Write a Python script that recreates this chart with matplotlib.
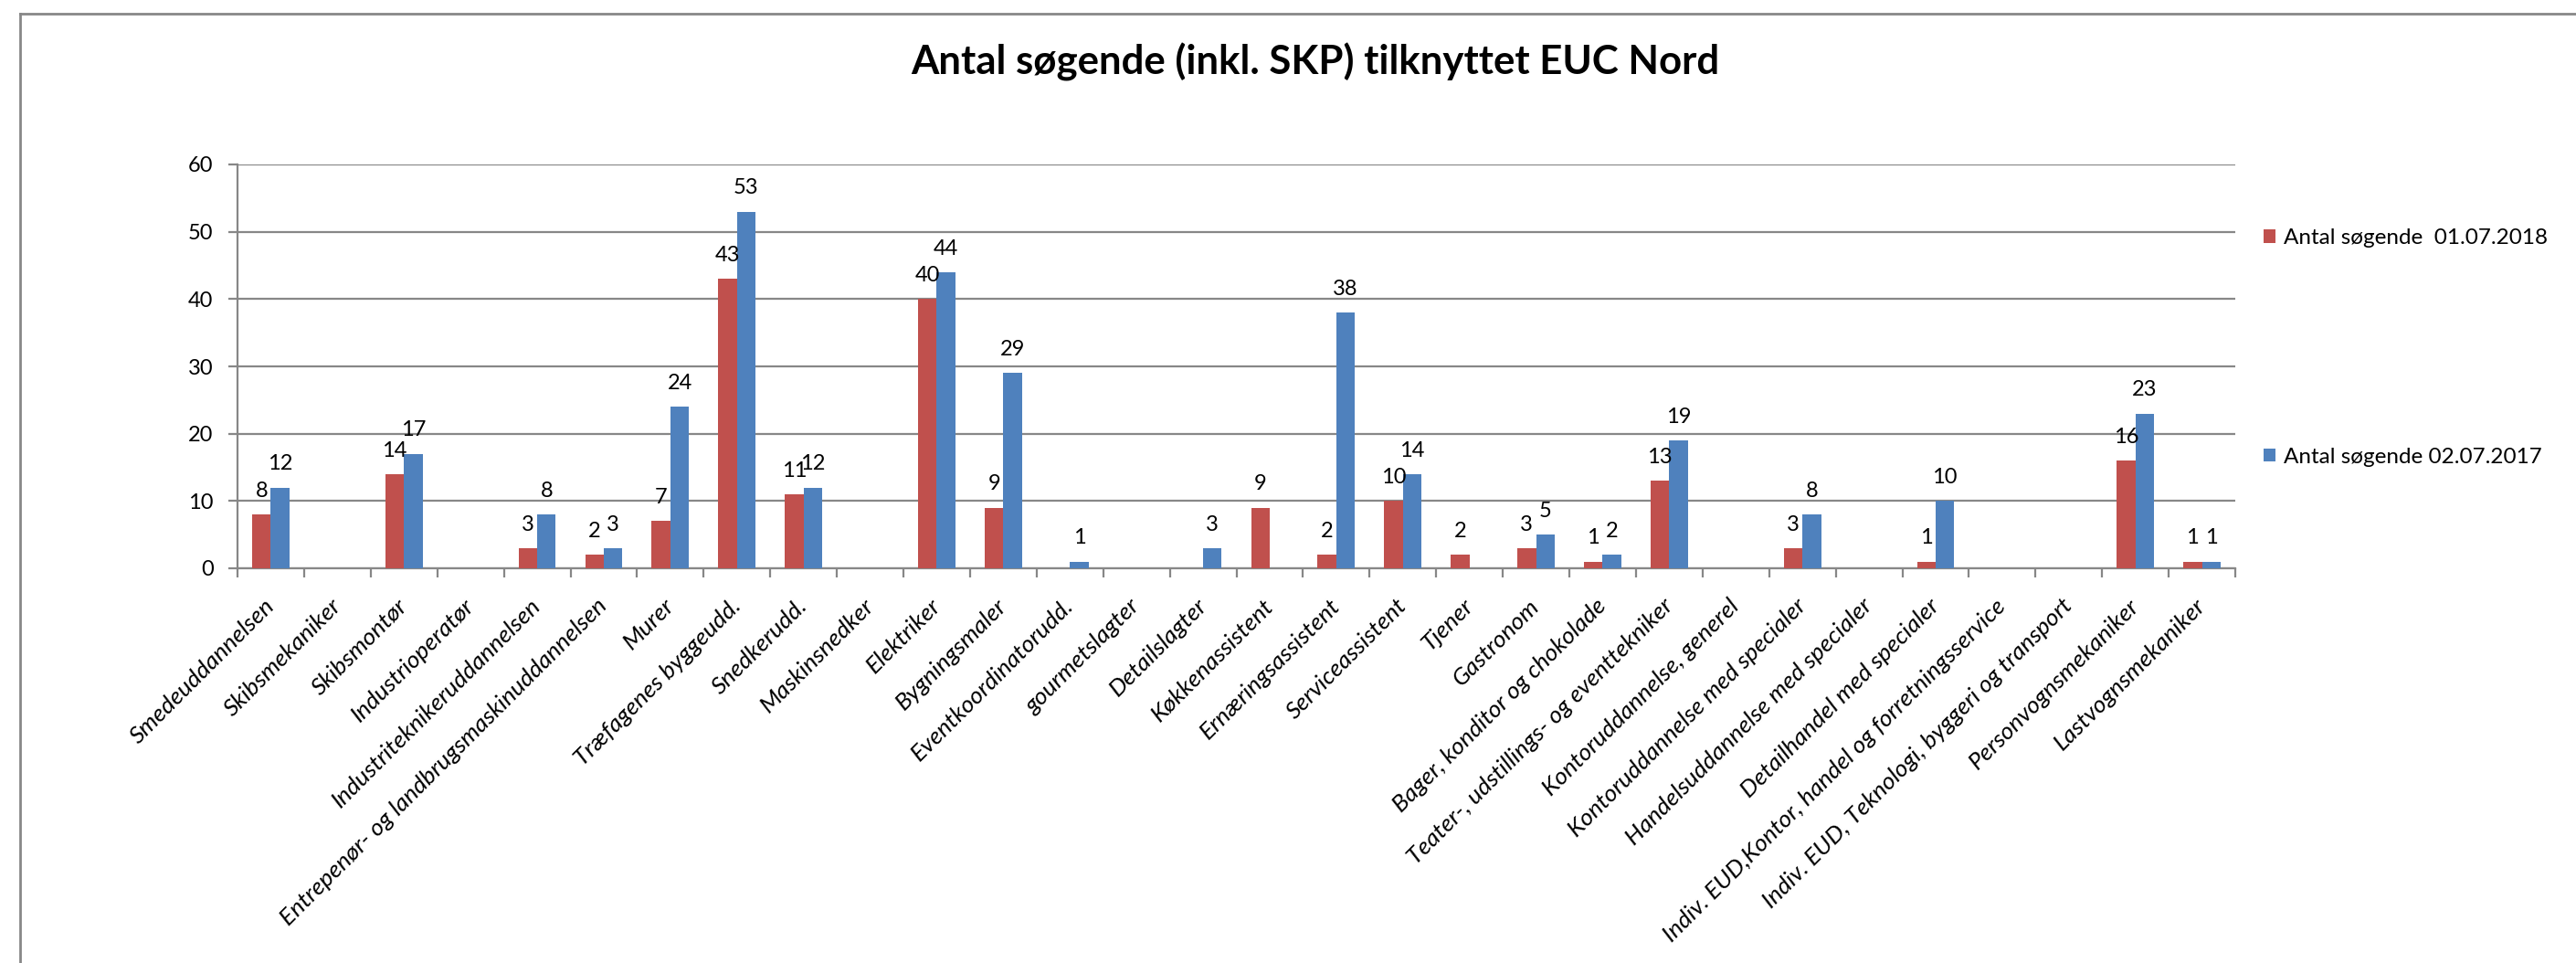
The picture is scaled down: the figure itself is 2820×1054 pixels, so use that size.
import numpy as np
import matplotlib.pyplot as plt
from matplotlib.lines import Line2D

categories = [
    "Smedeuddannelsen", "Skibsmekaniker", "Skibsmontør", "Industrioperatør",
    "Industriteknikeruddannelsen", "Entrepenør- og landbrugsmaskinuddannelsen",
    "Murer", "Træfagenes byggeudd.", "Snedkerudd.", "Maskinsnedker",
    "Elektriker", "Bygningsmaler", "Eventkoordinatorudd.", "gourmetslagter",
    "Detailslagter", "Køkkenassistent", "Ernæringsassistent", "Serviceassistent",
    "Tjener", "Gastronom", "Bager, konditor og chokolade",
    "Teater-, udstillings- og eventtekniker", "Kontoruddannelse, generel",
    "Kontoruddannelse med specialer", "Handelsuddannelse med specialer",
    "Detailhandel med specialer", "Indiv. EUD,Kontor, handel og forretningsservice",
    "Indiv. EUD, Teknologi, byggeri og transport", "Personvognsmekaniker",
    "Lastvognsmekaniker",
]

# None = tom celle (ingen søjle, ingen etiket)
s2018 = [8, None, 14, None, 3, 2, 7, 43, 11, None, 40, 9, None, None, None,
         9, 2, 10, 2, 3, 1, 13, None, 3, None, 1, None, None, 16, 1]
s2017 = [12, None, 17, None, 8, 3, 24, 53, 12, None, 44, 29, 1, None, 3,
         None, 38, 14, None, 5, 2, 19, None, 8, None, 10, None, None, 23, 1]

label2018 = "Antal søgende  01.07.2018"
label2017 = "Antal søgende 02.07.2017"
title = "Antal søgende (inkl. SKP) tilknyttet EUC Nord"

red = "#C0504D"
blue = "#4F81BD"
grey = "#878787"

plt.rcParams['font.family'] = ['Lato', 'DejaVu Sans']

W, H = 2820, 1054
fig = plt.figure(figsize=(W / 100, H / 100), dpi=100)
ax = fig.add_axes([260 / W, 1 - 622 / H, 2187 / W, 442 / H])

x = np.arange(len(categories))
bw = 0.28
v18 = np.array([np.nan if v is None else v for v in s2018], dtype=float)
v17 = np.array([np.nan if v is None else v for v in s2017], dtype=float)

b1 = ax.bar(x - bw / 2, np.nan_to_num(v18), bw, color=red, zorder=3)
b2 = ax.bar(x + bw / 2, np.nan_to_num(v17), bw, color=blue, zorder=3)

for xs, vals in ((x - bw / 2, s2018), (x + bw / 2, s2017)):
    for xi, v in zip(xs, vals):
        if v is None:
            continue
        ax.annotate(str(v), (xi, v), xytext=(0, 11), textcoords='offset points',
                    ha='center', va='bottom', fontsize=17, zorder=4)

ax.set_xlim(-0.5, len(categories) - 0.5)
ax.set_ylim(0, 60)
ax.set_yticks(range(0, 61, 10))
ax.yaxis.grid(True, color=grey, linewidth=1.6, zorder=0)

ax.set_xticks(np.arange(-0.5, len(categories) + 0.5, 1))
ax.set_xticklabels([])
ax.set_xticks(x, minor=True)
ax.set_xticklabels(categories, minor=True, rotation=45, ha='right',
                   va='center', rotation_mode='anchor', fontsize=19,
                   style='italic')
ax.tick_params(axis='x', which='minor', length=0, pad=27)
ax.tick_params(axis='x', which='major', length=7, width=1.6, color=grey,
               direction='out')
ax.tick_params(axis='y', length=7, width=1.6, color=grey, labelsize=17, pad=12)

for side in ('top', 'right'):
    ax.spines[side].set_visible(False)
for side in ('left', 'bottom'):
    ax.spines[side].set_color(grey)
    ax.spines[side].set_linewidth(1.6)

fig.text(1440 / W, 1 - 68 / H, title, ha='center', va='center',
         fontsize=31.5, fontweight='bold')

# legende
fig.legend([b1, b2], [label2018, label2017], loc='upper left',
           bbox_to_anchor=(2478 / W, 1 - 250 / H), frameon=False,
           fontsize=17.5, handlelength=0.55, handleheight=0.55,
           handletextpad=0.35, labelspacing=9.0, borderaxespad=0,
           borderpad=0)

# ramme om diagrammet
fig.add_artist(Line2D([22 / W, 1], [1 - 15 / H, 1 - 15 / H], color=grey,
                      linewidth=2, transform=fig.transFigure))
fig.add_artist(Line2D([22 / W, 22 / W], [0, 1 - 15 / H], color=grey,
                      linewidth=2, transform=fig.transFigure))

fig.savefig("out.png", dpi=100)
